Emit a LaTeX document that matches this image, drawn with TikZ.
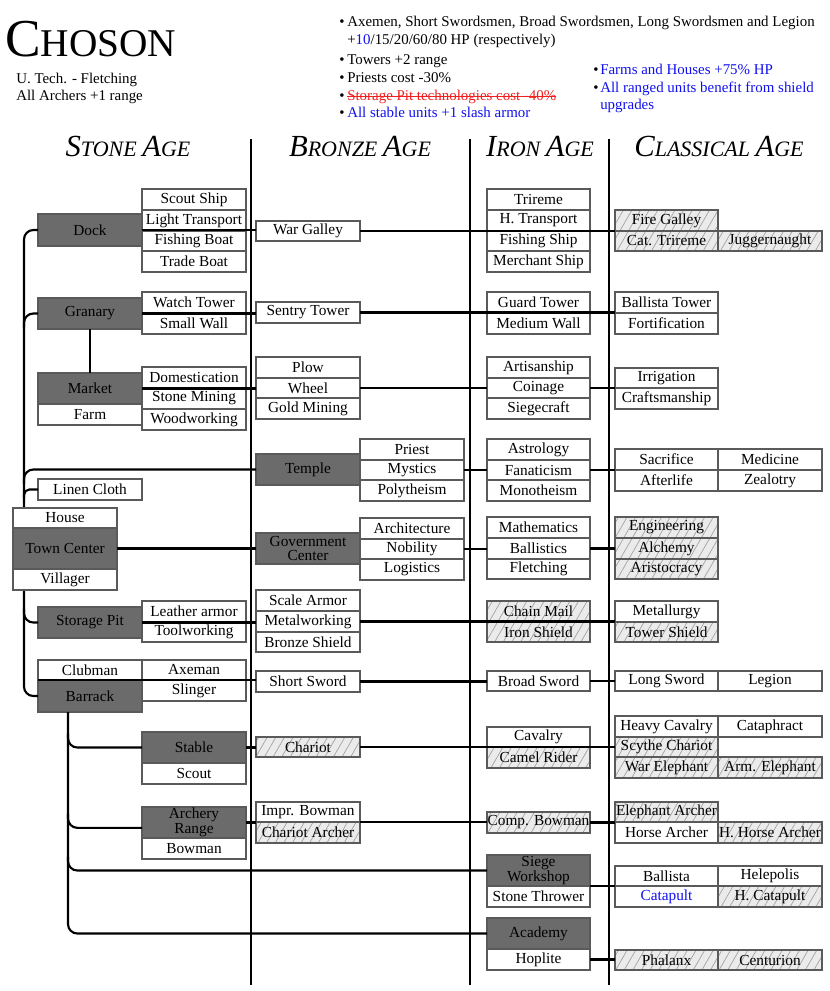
\documentclass[tikz,border=0pt]{standalone}
\usepackage{fontspec}
\setmainfont{Liberation Serif}
\usetikzlibrary{patterns.meta,calc}
\definecolor{dk}{HTML}{6B6B6B}
\definecolor{bl}{HTML}{1010F0}
\definecolor{rd}{HTML}{F02020}
\definecolor{bd}{HTML}{5A5A5A}
\definecolor{hf}{HTML}{EBEBEB}
\definecolor{hl}{HTML}{A0A0A0}
\newcommand\mystrike[1]{\setbox0=\hbox{#1}\rlap{\rule[0.3em]{\wd0}{0.6pt}}\box0}
\newcommand\bx[7]{\node[#6, minimum width={((#4)-(#2))*0.75pt}, minimum height={((#5)-(#3))*0.75pt}] (#1) at ({((#2)+(#4))/2},{((#3)+(#5))/2}) {#7};}
\newcommand\hsc[2]{{\fontsize{23}{23}\selectfont #1}{\fontsize{16.5}{16.5}\selectfont #2}}
\begin{document}
\begin{tikzpicture}[x=0.75pt, y=-0.75pt, font=\fontsize{11.5}{12}\selectfont,
  wbox/.style={draw=bd, line width=0.8pt, fill=white, inner sep=0pt, outer sep=0pt},
  dbox/.style={wbox, fill=dk},
  hbox/.style={draw=bd, line width=0.8pt, inner sep=0pt, outer sep=0pt, preaction={fill=hf}, pattern={Lines[angle=60,distance=5.6pt,line width=0.5pt]}, pattern color=hl},
  two/.style={align=center, font=\fontsize{11.5}{10}\selectfont},
  conn/.style={line width=1.6pt, black},
  divline/.style={line width=1.8pt, black},
  txt/.style={anchor=base west, inner sep=0pt, font=\fontsize{11.2}{12}\selectfont}]
\fill[white] (0,0) rectangle (830,991);
\useasboundingbox (0,0) rectangle (830,991);

% title and notes
\node[anchor=base west, inner sep=0pt] (title) at (5,57) {{\fontsize{40}{40}\selectfont C}{\fontsize{29.5}{29.5}\selectfont HOSON}};
\node[txt] (utech) at (16,84) {U. Tech. - Fletching};
\node[txt] (archers) at (16,101) {All Archers +1 range};

\node[txt] (b1) at (339,27) {\textbullet};
\node[txt] (t1) at (347,27) {Axemen, Short Swordsmen, Broad Swordsmen, Long Swordsmen and Legion};
\node[txt] (t1b) at (347,45) {+\textcolor{bl}{10}/15/20/60/80 HP (respectively)};
\node[txt] (b2) at (339,65) {\textbullet};
\node[txt] (t2) at (347,65) {Towers +2 range};
\node[txt] (b3) at (339,83) {\textbullet};
\node[txt] (t3) at (347,83) {Priests cost -30\%};
\node[txt] (b4) at (339,101) {\textbullet};
\node[txt, text=rd] (t4) at (347,101) {\mystrike{Storage Pit technologies cost -40\%}};
\node[txt] (b5) at (339,118) {\textbullet};
\node[txt, text=bl] (t5) at (347,118) {All stable units +1 slash armor};
\node[txt] (b6) at (593,75) {\textbullet};
\node[txt, text=bl] (t6) at (600,75) {Farms and Houses +75\% HP};
\node[txt] (b7) at (593,93) {\textbullet};
\node[txt, text=bl] (t7) at (600,93) {All ranged units benefit from shield};
\node[txt, text=bl] (t7b) at (600,110) {upgrades};

% headers
\node[anchor=base, inner sep=0pt, font=\itshape] (hstone) at (128,157) {\hsc{S}{TONE }\hsc{A}{GE}};
\node[anchor=base, inner sep=0pt, font=\itshape] (hbronze) at (360,157) {\hsc{B}{RONZE }\hsc{A}{GE}};
\node[anchor=base, inner sep=0pt, font=\itshape] (hiron) at (540,157) {\hsc{I}{RON }\hsc{A}{GE}};
\node[anchor=base, inner sep=0pt, font=\itshape] (hclass) at (719,157) {\hsc{C}{LASSICAL }\hsc{A}{GE}};

% dividers
\draw[divline] (251,139) -- (251,985);
\draw[divline] (470,139) -- (470,985);
\draw[divline] (609,139) -- (609,985);

\coordinate (tk) at (24,0);
\coordinate (st) at (68,0);

% stone age boxes
\bx{dock}{38}{214}{142}{246}{dbox}{Dock}
\bx{scoutship}{142}{189}{246}{210}{wbox}{Scout Ship}
\bx{lighttr}{142}{210}{246}{231}{wbox}{Light Transport}
\bx{fishboat}{142}{231}{246}{251}{wbox}{Fishing Boat}
\bx{tradeboat}{142}{251}{246}{272}{wbox}{Trade Boat}
\bx{granary}{38}{298}{142}{329}{dbox}{Granary}
\bx{watchtower}{142}{292}{246}{313}{wbox}{Watch Tower}
\bx{smallwall}{142}{313}{246}{334}{wbox}{Small Wall}
\bx{market}{38}{373}{142}{404}{dbox}{Market}
\bx{farm}{38}{404}{142}{425}{wbox}{Farm}
\bx{domest}{142}{367}{246}{388}{wbox}{Domestication}
\bx{stonemin}{142}{388}{246}{409}{wbox}{Stone Mining}
\bx{woodw}{142}{409}{246}{430}{wbox}{Woodworking}
\bx{linen}{38}{479}{142}{500}{wbox}{Linen Cloth}
\bx{storagepit}{38}{607}{142}{638}{dbox}{Storage Pit}
\bx{leather}{142}{601}{246}{622}{wbox}{Leather armor}
\bx{toolw}{142}{622}{246}{642}{wbox}{Toolworking}
\bx{clubman}{38}{660}{142}{680}{wbox}{Clubman}
\bx{barrack}{38}{680}{142}{712}{dbox}{Barrack}
\bx{axeman}{142}{660}{246}{680}{wbox}{Axeman}
\bx{slinger}{142}{680}{246}{701}{wbox}{Slinger}

% trunk and branches (behind town center)
\draw[conn, rounded corners=7pt] (dock.west) -- (dock.west -| tk) -- (barrack.west -| tk) -- (barrack.west);
\draw[conn, rounded corners=7pt] ($(granary.west -| tk)+(0,14)$) -- (granary.west -| tk) -- (granary.west);
\draw[conn, rounded corners=4pt] ($(linen.west -| tk)+(0,8)$) -- (linen.west -| tk) -- (linen.west);
\draw[conn, rounded corners=7pt] ($(storagepit.west -| tk)+(0,-14)$) -- (storagepit.west -| tk) -- (storagepit.west);

\bx{house}{13}{508}{117}{528}{wbox}{House}
\bx{towncenter}{13}{528}{117}{569}{dbox}{Town Center}
\bx{villager}{13}{569}{117}{590}{wbox}{Villager}

\bx{stable}{142}{732}{246}{763}{dbox}{Stable}
\bx{scout}{142}{763}{246}{784}{wbox}{Scout}
\bx{archery}{142}{807}{246}{838}{dbox,two}{Archery\\Range}
\bx{bowman}{142}{838}{246}{859}{wbox}{Bowman}

% bronze age
\bx{wargalley}{256}{221}{360}{241}{wbox}{War Galley}
\bx{sentry}{256}{302}{360}{323}{wbox}{Sentry Tower}
\bx{plow}{256}{357}{360}{378}{wbox}{Plow}
\bx{wheel}{256}{378}{360}{398}{wbox}{Wheel}
\bx{goldmin}{256}{398}{360}{419}{wbox}{Gold Mining}
\bx{temple}{256}{454}{360}{485}{dbox}{Temple}
\bx{priest}{360}{439}{464}{460}{wbox}{Priest}
\bx{mystics}{360}{460}{464}{480}{wbox}{Mystics}
\bx{polytheism}{360}{480}{464}{501}{wbox}{Polytheism}
\bx{govcenter}{256}{533}{360}{564}{dbox,two}{Government\\Center}
\bx{architecture}{360}{518}{464}{539}{wbox}{Architecture}
\bx{nobility}{360}{539}{464}{559}{wbox}{Nobility}
\bx{logistics}{360}{559}{464}{580}{wbox}{Logistics}
\bx{scalearmor}{256}{590}{360}{611}{wbox}{Scale Armor}
\bx{metalw}{256}{611}{360}{632}{wbox}{Metalworking}
\bx{bronzeshield}{256}{632}{360}{652}{wbox}{Bronze Shield}
\bx{shortsword}{256}{671}{360}{692}{wbox}{Short Sword}
\bx{chariot}{256}{737}{360}{757}{hbox}{Chariot}
\bx{imprbow}{256}{802}{360}{822}{wbox}{Impr. Bowman}
\bx{chararcher}{256}{822}{360}{843}{hbox}{Chariot Archer}

% iron age
\bx{trireme}{487}{189}{590}{210}{wbox}{Trireme}
\bx{htransport}{487}{210}{590}{231}{wbox}{H. Transport}
\bx{fishship}{487}{231}{590}{251}{wbox}{Fishing Ship}
\bx{merchship}{487}{251}{590}{272}{wbox}{Merchant Ship}
\bx{guardtower}{487}{292}{590}{313}{wbox}{Guard Tower}
\bx{mediumwall}{487}{313}{590}{334}{wbox}{Medium Wall}
\bx{artisan}{487}{357}{590}{378}{wbox}{Artisanship}
\bx{coinage}{487}{378}{590}{398}{wbox}{Coinage}
\bx{siegecraft}{487}{398}{590}{419}{wbox}{Siegecraft}
\bx{astrology}{487}{439}{590}{460}{wbox}{Astrology}
\bx{fanaticism}{487}{460}{590}{480}{wbox}{Fanaticism}
\bx{monotheism}{487}{480}{590}{501}{wbox}{Monotheism}
\bx{mathematics}{487}{517}{590}{538}{wbox}{Mathematics}
\bx{ballistics}{487}{538}{590}{559}{wbox}{Ballistics}
\bx{fletching}{487}{559}{590}{579}{wbox}{Fletching}
\bx{chainmail}{487}{601}{590}{622}{hbox}{Chain Mail}
\bx{ironshield}{487}{622}{590}{642}{hbox}{Iron Shield}
\bx{broadsword}{487}{671}{590}{691}{wbox}{Broad Sword}
\bx{cavalry}{487}{727}{590}{747}{wbox}{Cavalry}
\bx{camelrider}{487}{747}{590}{768}{hbox}{Camel Rider}
\bx{compbow}{487}{812}{590}{833}{hbox}{Comp. Bowman}
\bx{siegews}{487}{855}{590}{886}{dbox,two}{Siege\\Workshop}
\bx{stonethrower}{487}{886}{590}{907}{wbox}{Stone Thrower}
\bx{academy}{487}{918}{590}{949}{dbox}{Academy}
\bx{hoplite}{487}{949}{590}{970}{wbox}{Hoplite}

% classical age
\bx{firegalley}{615}{210}{718}{231}{hbox}{Fire Galley}
\bx{cattrireme}{615}{231}{718}{251}{hbox}{Cat. Trireme}
\bx{juggernaught}{718}{231}{822}{251}{hbox}{Juggernaught}
\bx{ballistatower}{615}{292}{718}{313}{wbox}{Ballista Tower}
\bx{fortification}{615}{313}{718}{334}{wbox}{Fortification}
\bx{irrigation}{615}{368}{718}{388}{wbox}{Irrigation}
\bx{craftsmanship}{615}{388}{718}{409}{wbox}{Craftsmanship}
\bx{sacrifice}{615}{449}{718}{470}{wbox}{Sacrifice}
\bx{medicine}{718}{449}{822}{470}{wbox}{Medicine}
\bx{afterlife}{615}{470}{718}{491}{wbox}{Afterlife}
\bx{zealotry}{718}{470}{822}{491}{wbox}{Zealotry}
\bx{engineering}{615}{517}{718}{538}{hbox}{Engineering}
\bx{alchemy}{615}{538}{718}{559}{hbox}{Alchemy}
\bx{aristocracy}{615}{559}{718}{579}{hbox}{Aristocracy}
\bx{metallurgy}{615}{601}{718}{622}{wbox}{Metallurgy}
\bx{towershield}{615}{622}{718}{642}{hbox}{Tower Shield}
\bx{longsword}{615}{671}{718}{691}{wbox}{Long Sword}
\bx{legion}{718}{671}{822}{691}{wbox}{Legion}
\bx{heavycav}{615}{716}{718}{737}{wbox}{Heavy Cavalry}
\bx{cataphract}{718}{716}{822}{737}{wbox}{Cataphract}
\bx{scythe}{615}{737}{718}{757}{hbox}{Scythe Chariot}
\bx{warele}{615}{757}{718}{778}{hbox}{War Elephant}
\bx{armele}{718}{757}{822}{778}{hbox}{Arm. Elephant}
\bx{elearcher}{615}{802}{718}{822}{hbox}{Elephant Archer}
\bx{horsearcher}{615}{822}{718}{843}{wbox}{Horse Archer}
\bx{hhorsearcher}{718}{822}{822}{843}{hbox}{H. Horse Archer}
\bx{ballista}{615}{866}{718}{886}{wbox}{Ballista}
\bx{helepolis}{718}{866}{822}{886}{wbox}{Helepolis}
\bx{catapult}{615}{886}{718}{907}{wbox,text=bl}{Catapult}
\bx{hcatapult}{718}{886}{822}{907}{hbox}{H. Catapult}
\bx{phalanx}{615}{950}{718}{970}{hbox}{Phalanx}
\bx{centurion}{718}{950}{822}{970}{hbox}{Centurion}

% branches from trunk to bronze age buildings
\draw[conn, rounded corners=7pt] ($(temple.west -| tk)+(0,14)$) -- (temple.west -| tk) -- (temple.west);
\draw[conn] (towncenter.east) -- (towncenter.east -| govcenter.west);

% barrack sub-trunk
\coordinate (arl) at ([yshift=-4pt]archery.west);
\draw[conn, rounded corners=7pt] (barrack.south -| st) -- (academy.west -| st) -- (academy.west);
\draw[conn, rounded corners=7pt] ($(stable.west -| st)+(0,-14)$) -- (stable.west -| st) -- (stable.west);
\draw[conn, rounded corners=7pt] ($(arl -| st)+(0,-14)$) -- (arl -| st) -- (arl);
\draw[conn, rounded corners=7pt] ($(siegews.west -| st)+(0,-14)$) -- (siegews.west -| st) -- (siegews.west);

% upgrade lines
\draw[conn] (dock.east) -- (dock.east -| wargalley.west);
\draw[conn] (wargalley.east) -- (wargalley.east -| firegalley.west);
\draw[conn] (granary.east) -- (granary.east -| sentry.west);
\draw[conn] (sentry.east) -- (sentry.east -| ballistatower.west);
\draw[conn] (granary.south) -- (market.north);
\draw[conn] (market.east) -- (market.east -| wheel.west);
\draw[conn] (wheel.east) -- (wheel.east -| coinage.west);
\draw[conn] (coinage.east) -- (coinage.east -| irrigation.west);
\draw[conn] (mystics.east) -- (mystics.east -| fanaticism.west);
\draw[conn] (fanaticism.east) -- (fanaticism.east -| sacrifice.west);
\draw[conn] (nobility.east) -- (nobility.east -| ballistics.west);
\draw[conn] (ballistics.east) -- (ballistics.east -| alchemy.west);
\draw[conn] (storagepit.east) -- (storagepit.east -| metalw.west);
\draw[conn] (metalw.east) -- (metalw.east -| towershield.west);
\draw[conn] (clubman.south west) -- (clubman.south west -| shortsword.west);
\draw[conn] (shortsword.east) -- (shortsword.east -| broadsword.west);
\draw[conn] (broadsword.east) -- (broadsword.east -| longsword.west);
\draw[conn] (stable.east) -- (stable.east -| chariot.west);
\draw[conn] (chariot.east) -- (chariot.east -| scythe.west);
\draw[conn] (archery.east) -- (archery.east -| imprbow.west);
\draw[conn] (imprbow.south east) -- (imprbow.south east -| compbow.west);
\draw[conn] (compbow.east) -- (compbow.east -| horsearcher.west);
\draw[conn] (stonethrower.north east) -- (stonethrower.north east -| catapult.west);
\draw[conn] (hoplite.east) -- (hoplite.east -| phalanx.west);
\end{tikzpicture}
\end{document}
